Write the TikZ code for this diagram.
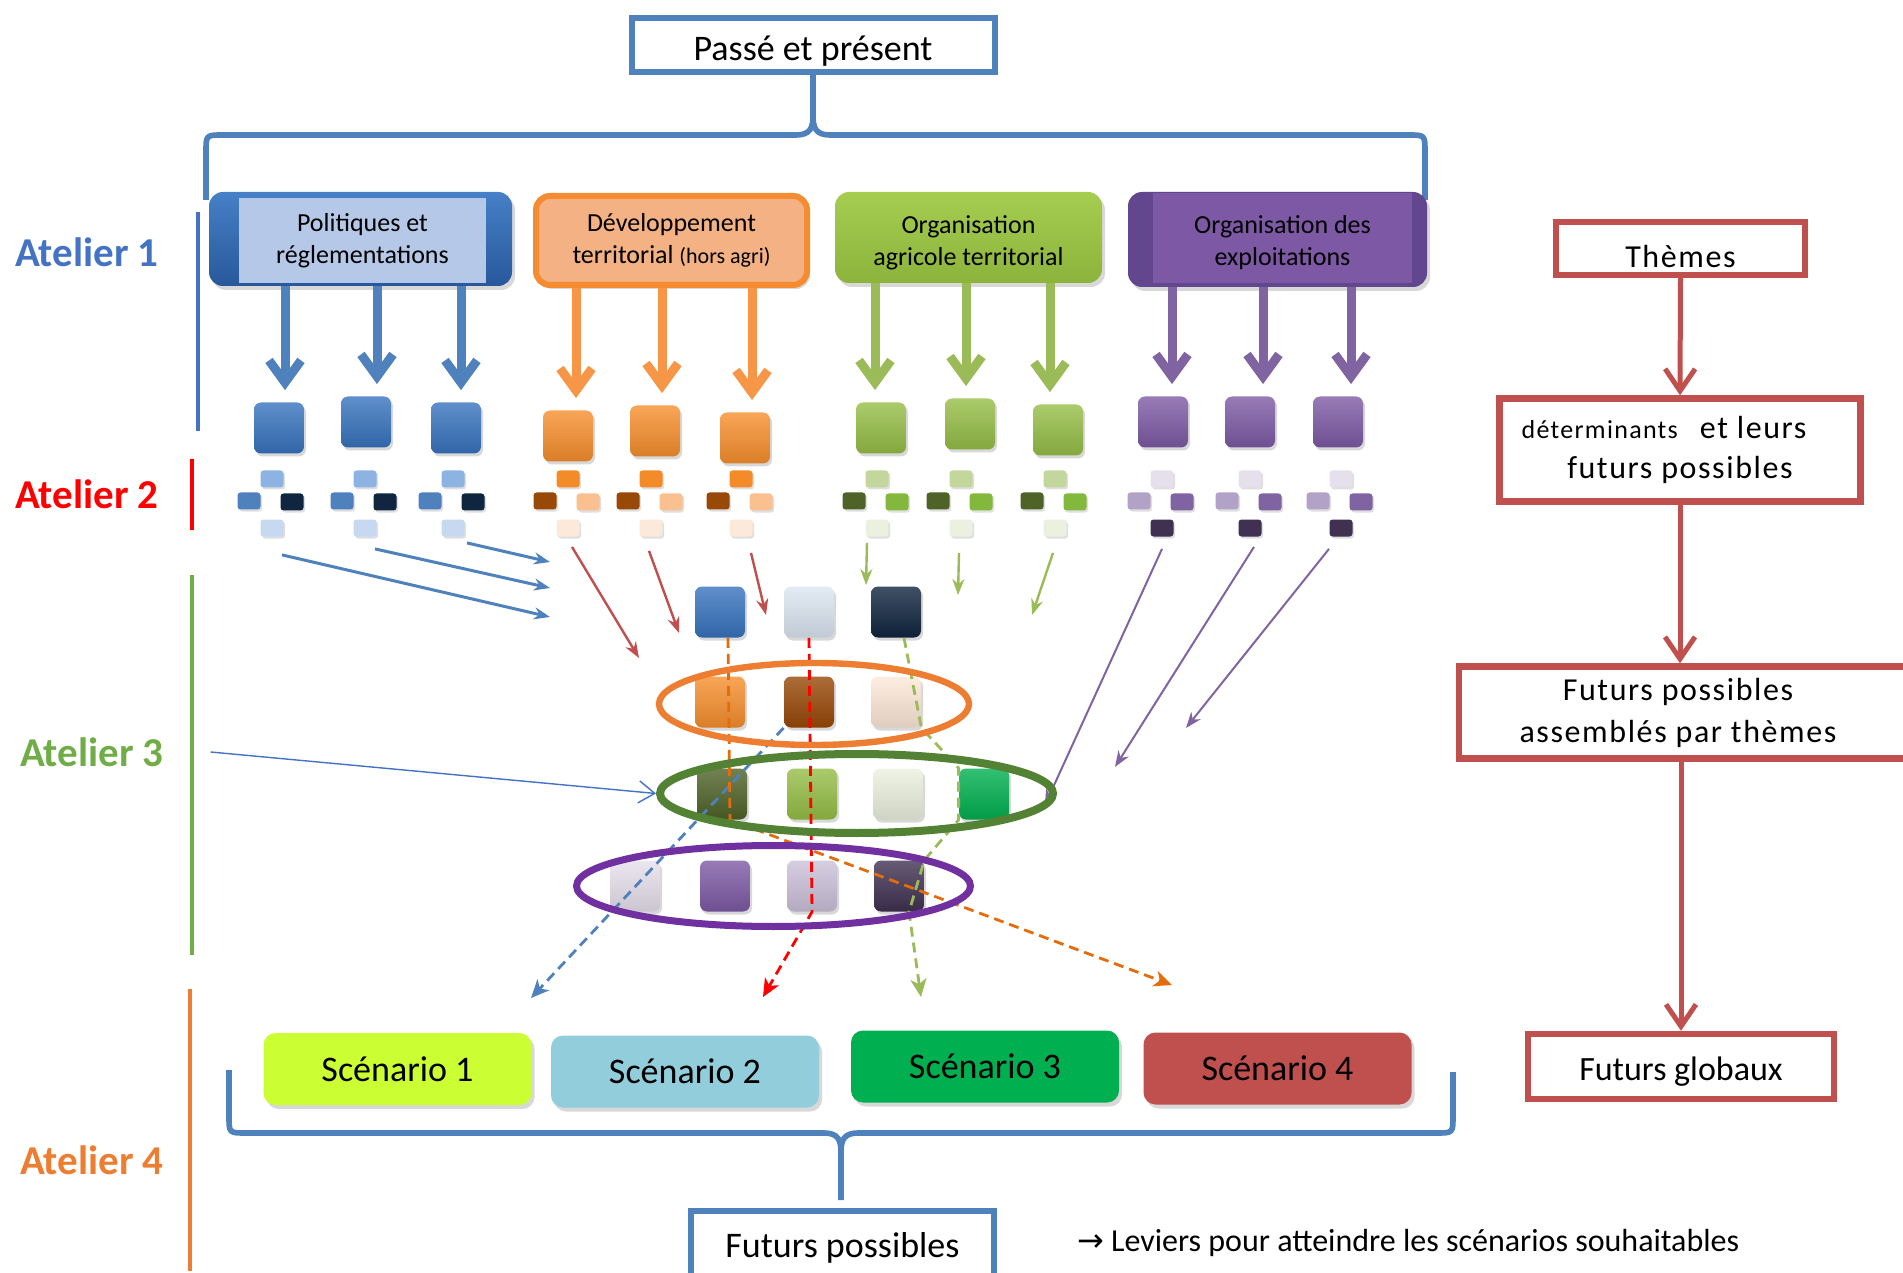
\documentclass[tikz,border=0pt]{standalone}
\usepackage{fontspec}
\setmainfont{Carlito}
\newfontfamily\arrowfont{DejaVu Sans}
\usetikzlibrary{shapes,arrows.meta,positioning,fit,shadows}

\definecolor{braceblue}{RGB}{79,129,189}
\definecolor{at1}{RGB}{68,114,196}
\definecolor{at2}{RGB}{255,0,0}
\definecolor{at3}{RGB}{112,173,71}
\definecolor{at4}{RGB}{237,125,49}
\definecolor{poltop}{RGB}{70,128,198}
\definecolor{polbot}{RGB}{40,88,155}
\definecolor{pollight}{RGB}{182,200,232}
\definecolor{devline}{RGB}{245,140,50}
\definecolor{devfill}{RGB}{244,177,131}
\definecolor{orgtop}{RGB}{165,205,80}
\definecolor{orgbot}{RGB}{140,180,60}
\definecolor{expldark}{RGB}{98,70,142}
\definecolor{expllight}{RGB}{125,88,165}
\definecolor{sqblue}{RGB}{55,115,190}
\definecolor{sqorange}{RGB}{247,143,45}
\definecolor{sqgreen}{RGB}{150,190,70}
\definecolor{sqpurple}{RGB}{125,90,165}
\definecolor{arblue}{RGB}{79,129,189}
\definecolor{arorange}{RGB}{247,150,70}
\definecolor{argreen}{RGB}{155,187,89}
\definecolor{arpurple}{RGB}{128,100,162}
\definecolor{arred}{RGB}{192,80,77}
\definecolor{blT}{RGB}{141,179,226}
\definecolor{blL}{RGB}{79,129,189}
\definecolor{blR}{RGB}{16,37,63}
\definecolor{blD}{RGB}{198,217,241}
\definecolor{orT}{RGB}{243,140,40}
\definecolor{orL}{RGB}{152,72,7}
\definecolor{orR}{RGB}{250,192,144}
\definecolor{orD}{RGB}{253,233,217}
\definecolor{grT}{RGB}{195,214,155}
\definecolor{grL}{RGB}{79,98,40}
\definecolor{grR}{RGB}{130,185,60}
\definecolor{grD}{RGB}{235,241,222}
\definecolor{puT}{RGB}{230,224,236}
\definecolor{puL}{RGB}{179,162,199}
\definecolor{puR}{RGB}{128,100,162}
\definecolor{puD}{RGB}{64,49,82}
\definecolor{cpale}{RGB}{220,230,242}
\definecolor{cnavy}{RGB}{16,37,63}
\definecolor{cbrown}{RGB}{152,72,7}
\definecolor{cpeach}{RGB}{253,233,217}
\definecolor{colive}{RGB}{79,98,40}
\definecolor{cmint}{RGB}{235,241,222}
\definecolor{cbright}{RGB}{0,176,80}
\definecolor{clilac}{RGB}{230,224,236}
\definecolor{clav}{RGB}{204,193,218}
\definecolor{cplum}{RGB}{64,49,82}
\definecolor{ringorange}{RGB}{237,125,49}
\definecolor{ringgreen}{RGB}{84,130,53}
\definecolor{ringpurple}{RGB}{112,48,160}
\definecolor{dashblue}{RGB}{79,129,189}
\definecolor{dashred}{RGB}{255,0,0}
\definecolor{dashgreen}{RGB}{155,187,89}
\definecolor{dashorange}{RGB}{228,108,10}
\definecolor{sc1}{RGB}{204,255,51}
\definecolor{sc2}{RGB}{146,205,220}
\definecolor{sc3}{RGB}{0,176,80}
\definecolor{sc4}{RGB}{192,80,77}
\definecolor{themered}{RGB}{192,80,77}

\begin{document}
\begin{tikzpicture}[x=0.5pt, y=-0.5pt]

% Define styles
\tikzstyle{titlebox} = [rectangle, draw=braceblue, line width=3pt, fill=white, text centered]
\tikzstyle{bracket} = [draw=braceblue, line width=2.8pt]
\tikzstyle{catbox} = [rectangle, rounded corners=7pt, text centered, align=center, font=\fontsize{13}{16}\selectfont, drop shadow={opacity=0.3, shadow xshift=1.5pt, shadow yshift=-2pt}]
\tikzstyle{fatarrow} = [line width=4.5pt, -{Straight Barb[length=11pt, width=16pt]}, shorten >=6pt]
\tikzstyle{bigsq} = [rectangle, rounded corners=3.5pt, minimum width=25pt, minimum height=25.5pt, inner sep=0pt, drop shadow={opacity=0.3, shadow xshift=1pt, shadow yshift=-1.5pt}]
\tikzstyle{smallsq} = [rectangle, rounded corners=1.5pt, minimum width=11.5pt, minimum height=8.5pt, inner sep=0pt, drop shadow={opacity=0.25, shadow xshift=0.8pt, shadow yshift=-1pt}]
\tikzstyle{thinarrow} = [line width=1.2pt, -{Stealth[length=8pt, width=6pt]}]
\tikzstyle{dasharrow} = [line width=1.4pt, dash pattern=on 5pt off 3pt, -{Stealth[length=9pt, width=8pt, inset=2.5pt]}]
\tikzstyle{ring} = [ellipse, draw, inner sep=0pt]
\tikzstyle{scenario} = [rectangle, rounded corners=6pt, minimum width=134pt, minimum height=36pt, font=\fontsize{18}{20}\selectfont, drop shadow={opacity=0.3, shadow xshift=1.5pt, shadow yshift=-2pt}]
\tikzstyle{redbox} = [rectangle, draw=themered, line width=3.2pt, fill=white, align=center, font=\fontsize{16}{20}\selectfont\addfontfeatures{LetterSpace=5}]
\tikzstyle{redarrow} = [draw=themered, line width=2.5pt, -{Straight Barb[length=11pt, width=15pt]}]
\tikzstyle{atelier} = [font=\bfseries\fontsize{20.5}{24}\selectfont]
\tikzstyle{bar} = [line width=2.2pt]
\tikzset{sq/.style={top color=#1!80!white, bottom color=#1!88!black}}

\path [use as bounding box, fill=white] (0,0) rectangle (1903,1273);

% Ateliers
\node [atelier, text=at1] (a1) at (87,252) {Atelier 1};
\node [atelier, text=at2] (a2) at (87,494) {Atelier 2};
\node [atelier, text=at3] (a3) at (92,752) {Atelier 3};
\node [atelier, text=at4] (a4) at (92,1160) {Atelier 4};
\draw [bar, at1] (198,212) -- (198,431);
\draw [bar, at2] (192,459) -- (192,530);
\draw [bar, at3] (192,575) -- (192,955);
\draw [bar, at4] (190,989) -- (190,1271);

% Passé et présent
\node [titlebox, minimum width=181.5pt, minimum height=27pt, font=\fontsize{18}{20}\selectfont] (past) at (813,45) {\raisebox{-3pt}[\height][\depth]{Passé et présent}};
\draw [bracket] (206,200) -- (206,152) .. controls (206,135) .. (223,135) -- (796,135) .. controls (810,135) and (813,128) .. (813,116) -- (past.south);
\draw [bracket] (813,116) .. controls (813,128) and (816,135) .. (830,135) -- (1408,135) .. controls (1425,135) .. (1425,152) -- (1425,200);

% Themes
\node [catbox, top color=poltop, bottom color=polbot, minimum width=151.5pt, minimum height=47pt] (pol) at (360.5,239) {};
\node [rectangle, fill=pollight, minimum width=123.5pt, minimum height=42.5pt, align=center, font=\fontsize{13}{16}\selectfont] (poltext) at (362.5,240.5) {Politiques et\\réglementations};
\node [catbox, draw=devline, line width=3pt, fill=devfill, minimum width=135.5pt, minimum height=44.5pt] (dev) at (671.5,240.5) {Développement\\territorial {\fontsize{11}{13}\selectfont (hors agri)}};
\node [catbox, top color=orgtop, bottom color=orgbot, minimum width=133.5pt, minimum height=45.5pt] (org) at (968.5,237.5) {\raisebox{-2.5pt}[\height][\depth]{Organisation}\\\raisebox{-2.5pt}[\height][\depth]{agricole territorial}};
\node [catbox, fill=expldark, minimum width=149.5pt, minimum height=47.5pt] (expl) at (1277.5,239.5) {};
\node [rectangle, fill=expllight, minimum width=129.5pt, minimum height=45pt, align=center, font=\fontsize{13}{16}\selectfont] (expltext) at (1282.5,238) {\raisebox{-2.5pt}[\height][\depth]{Organisation des}\\\raisebox{-2.5pt}[\height][\depth]{exploitations}};

% Determinants
\node [bigsq, sq=sqblue] (b1) at (279,428) {};
\node [bigsq, sq=sqblue] (b2) at (366,422) {};
\node [bigsq, sq=sqblue] (b3) at (456,428) {};
\node [bigsq, sq=sqorange] (o1) at (568,436) {};
\node [bigsq, sq=sqorange] (o2) at (655,431) {};
\node [bigsq, sq=sqorange] (o3) at (745,438) {};
\node [bigsq, sq=sqgreen] (g1) at (881,428) {};
\node [bigsq, sq=sqgreen] (g2) at (970,424) {};
\node [bigsq, sq=sqgreen] (g3) at (1058,430) {};
\node [bigsq, sq=sqpurple] (p1) at (1163,422) {};
\node [bigsq, sq=sqpurple] (p2) at (1250,422) {};
\node [bigsq, sq=sqpurple] (p3) at (1338,422) {};

\foreach \s/\dx in {b1/3pt, b2/5.5pt, b3/2.5pt}
  \draw [fatarrow, arblue] ([xshift=\dx]\s.north |- pol.south) -- ([xshift=\dx]\s.north);
\foreach \s/\dx in {o1/4pt, o2/3.5pt, o3/3.5pt}
  \draw [fatarrow, arorange] ([xshift=\dx]\s.north |- dev.south) -- ([xshift=\dx]\s.north);
\foreach \s/\dx in {g1/-3pt, g2/-2pt, g3/-4pt}
  \draw [fatarrow, argreen] ([xshift=\dx]\s.north |- org.south) -- ([xshift=\dx]\s.north);
\foreach \s/\dx in {p1/4.5pt, p2/6.5pt, p3/6.5pt}
  \draw [fatarrow, arpurple] ([xshift=\dx]\s.north |- expl.south) -- ([xshift=\dx]\s.north);

% Futurs possibles par determinant
\foreach \n/\x/\ct/\cl/\cr/\cd in {bl1/272/blT/blL/blR/blD, bl2/365/blT/blL/blR/blD, bl3/453/blT/blL/blR/blD,
    or1/568/orT/orL/orR/orD, or2/651/orT/orL/orR/orD, or3/741/orT/orL/orR/orD,
    gr1/877/grT/grL/grR/grD, gr2/961/grT/grL/grR/grD, gr3/1055/grT/grL/grR/grD,
    pu1/1162/puT/puL/puR/puD, pu2/1250/puT/puL/puR/puD, pu3/1341/puT/puL/puR/puD}
{
  \node [smallsq, fill=\ct] (\n-t) at (\x,479) {};
  \node [smallsq, fill=\cl] (\n-l) at (\x-23,501) {};
  \node [smallsq, fill=\cr] (\n-r) at (\x+20,502) {};
  \node [smallsq, fill=\cd] (\n-d) at (\x,528) {};
}

% Arrow ends
\coordinate (tb1) at (550,617);
\coordinate (tb2) at (550,588);
\coordinate (tb3) at (550,562);
\coordinate (tr1) at (639,658);
\coordinate (tr2) at (679,633);
\coordinate (tr3) at (766,615);
\coordinate (tg1) at (866,585);
\coordinate (tg2) at (958,595);
\coordinate (tg3) at (1032,615);
\coordinate (tp1) at (1045,805);
\coordinate (tp2) at (1115,767);
\coordinate (tp3) at (1186,728);

\draw [thinarrow, arblue, line width=1.5pt] ([xshift=5pt,yshift=-9pt]bl1-d.south) -- (tb1);
\draw [thinarrow, arblue, line width=1.5pt] ([xshift=5pt,yshift=-6pt]bl2-d.south) -- (tb2);
\draw [thinarrow, arblue, line width=1.5pt] ([xshift=7pt,yshift=-3pt]bl3-d.south) -- (tb3);
\draw [thinarrow, arred] ([xshift=2pt,yshift=-5pt]or1-d.south) -- (tr1);
\draw [thinarrow, arred] ([xshift=-1pt,yshift=-7pt]or2-d.south) -- (tr2);
\draw [thinarrow, arred] ([xshift=5pt,yshift=-8pt]or3-d.south) -- (tr3);
\draw [thinarrow, argreen] ([xshift=-5pt,yshift=-3pt]gr1-d.south) -- (tg1);
\draw [thinarrow, argreen] ([xshift=-1pt,yshift=-8pt]gr2-d.south) -- (tg2);
\draw [thinarrow, argreen] ([xshift=-1pt,yshift=-8pt]gr3-d.south) -- (tg3);
\draw [thinarrow, arpurple, line width=1pt] ([yshift=-6pt]pu1-d.south) -- (tp1);
\draw [thinarrow, arpurple, line width=1pt] ([xshift=2pt,yshift=-5pt]pu2-d.south) -- (tp2);
\draw [thinarrow, arpurple, line width=1pt] ([xshift=-6pt,yshift=-6pt]pu3-d.south) -- (tp3);

% Assemblage
\node [bigsq, sq=sqblue] (cb) at (720,612) {};
\node [bigsq, sq=cpale] (cbl) at (809,612) {};
\node [bigsq, sq=cnavy] (cbn) at (896,612) {};
\node [bigsq, sq=sqorange] (co) at (720,702) {};
\node [bigsq, sq=cbrown] (cbr) at (809,702) {};
\node [bigsq, sq=cpeach] (cpo) at (896,702) {};
\node [bigsq, sq=colive] (cgd) at (722,794) {};
\node [bigsq, sq=sqgreen] (cgl) at (812,794) {};
\node [bigsq, sq=cmint] (cgp) at (898,794) {};
\node [bigsq, sq=cbright] (cgb) at (984,794) {};
\node [bigsq, sq=clilac] (cpl) at (635,886) {};
\node [bigsq, sq=sqpurple] (cpu) at (725,886) {};
\node [bigsq, sq=clav] (cpv) at (812,886) {};
\node [bigsq, sq=cplum] (cpd) at (899,886) {};

% Scenario paths
\coordinate (td1) at (531,998);
\coordinate (td2) at (763,997);
\coordinate (td3) at (921,997);
\coordinate (td4) at (1172,985);
\draw [dasharrow, dashblue] (cbr.south west) -- (td1);
\draw [dasharrow, dashred] (cbl.south) -- (cpv.south) -- (td2);
\draw [dasharrow, dashgreen] ([xshift=4pt]cbn.south) -- (cpo.south east) -- (cgb.north west) -- (cgb.south west) -- (cpd.north east) -- ([xshift=5pt]cpd.south) -- (td3);
\draw [dasharrow, dashorange] ([xshift=4pt]cb.south) -- ([xshift=4pt]cgd.south) -- (td4);

\node [ring, draw=ringorange, line width=3.2pt, minimum width=155pt, minimum height=41pt] (elo) at (814,704) {};
\node [ring, draw=ringgreen, line width=4pt, minimum width=196.5pt, minimum height=39.5pt] (elg) at (856.5,793.5) {};
\node [ring, draw=ringpurple, line width=3.5pt, minimum width=197pt, minimum height=40.5pt] (elp) at (773.5,886) {};
\draw [at1, line width=0.7pt, -{Straight Barb[length=8pt, width=11pt]}] ([xshift=20pt]a3.east) -- (elg.west);

% Scenarios
\node [scenario, fill=sc1] (s1) at (397.5,1069) {Scénario 1};
\node [scenario, fill=sc2] (s2) at (685,1071.5) {Scénario 2};
\node [scenario, fill=sc3] (s3) at (985,1066.5) {Scénario 3};
\node [scenario, fill=sc4] (s4) at (1277.5,1068.5) {Scénario 4};

\node [titlebox, minimum width=151.5pt, minimum height=39.5pt, font=\fontsize{18}{20}\selectfont] (fpos) at (842.5,1250.5) {\raisebox{1.2pt}[\height][\depth]{Futurs possibles}};
\draw [bracket] (229,1070) -- (229,1116) .. controls (229,1133) .. (246,1133) -- (824,1133) .. controls (838,1133) and (841,1140) .. (841,1152) -- ([yshift=4pt]fpos.north -| 841,0);
\draw [bracket] (841,1152) .. controls (841,1140) and (844,1133) .. (858,1133) -- (1436,1133) .. controls (1453,1133) .. (1453,1116) -- (1453,1072);
\node [anchor=base west, font=\fontsize{16}{20}\selectfont] (lev) at (1070,1251) {{\arrowfont →} Leviers pour atteindre les scénarios souhaitables};

% Legend
\node [redbox, minimum width=124.5pt, minimum height=26.5pt] (themes) at (1680.5,248.5) {\raisebox{-4pt}[\height][\depth]{Thèmes}};
\node [redbox, minimum width=180.5pt, minimum height=51.5pt] (det) at (1680,450) {\hspace*{-16pt}{\fontsize{13}{16}\selectfont déterminants}\hspace{11pt}et leurs\\futurs possibles};
\node [redbox, minimum width=227.75pt, minimum height=46pt, font=\fontsize{16}{21}\selectfont\addfontfeatures{LetterSpace=5}] (fpa) at (1687,712.5) {\hspace*{-9pt}Futurs possibles\\\hspace*{-9pt}assemblés par thèmes};
\node [redbox, minimum width=153pt, minimum height=32.5pt, font=\fontsize{17}{20}\selectfont] (fglob) at (1681,1066.5) {\raisebox{-2.5pt}[\height][\depth]{Futurs globaux}};

\draw [redarrow] (themes.south) -- (det.north);
\draw [redarrow] (det.south) -- (det.south |- fpa.north);
\draw [redarrow] (fglob.north |- fpa.south) -- (fglob.north);

\end{tikzpicture}
\end{document}
